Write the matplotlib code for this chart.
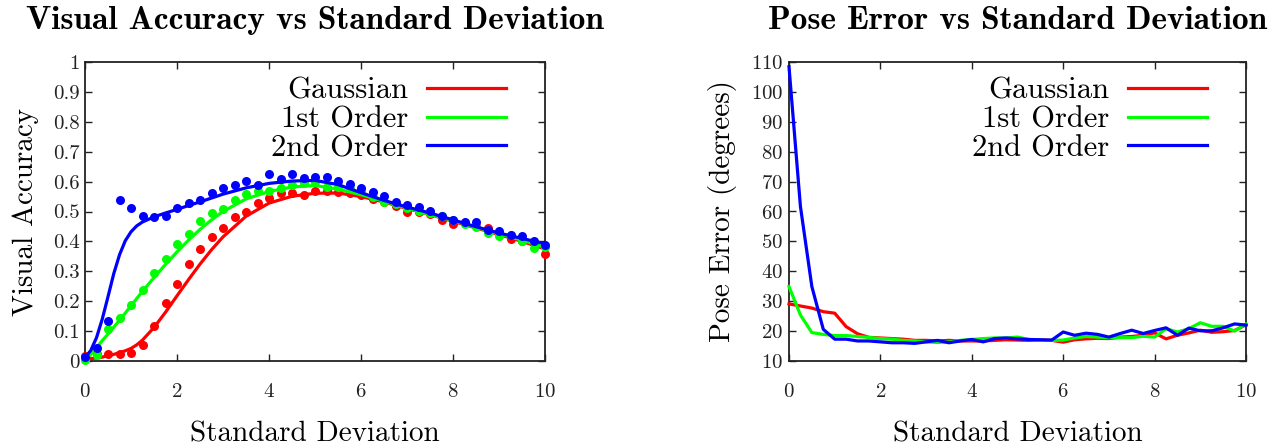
import matplotlib
matplotlib.use("Agg")
import matplotlib.pyplot as plt

plt.rcParams["font.family"] = ["cmr10", "DejaVu Serif"]
plt.rcParams["axes.formatter.use_mathtext"] = True

# ---- Visual accuracy: measured points (every 0.25) ----
std_points = [i * 0.25 for i in range(41)]

acc_gauss = [0.016, 0.025, 0.025, 0.025, 0.027, 0.054, 0.116, 0.194, 0.259, 0.323,
             0.374, 0.416, 0.444, 0.482, 0.498, 0.530, 0.545, 0.561, 0.561, 0.555,
             0.570, 0.570, 0.566, 0.561, 0.555, 0.541, 0.533, 0.519, 0.500, 0.498,
             0.492, 0.470, 0.457, 0.460, 0.450, 0.444, 0.427, 0.409, 0.402, 0.393,
             0.358]
acc_first = [0.005, 0.021, 0.106, 0.145, 0.188, 0.236, 0.293, 0.342, 0.392, 0.426,
             0.467, 0.496, 0.508, 0.537, 0.559, 0.569, 0.570, 0.577, 0.589, 0.594,
             0.600, 0.583, 0.581, 0.578, 0.570, 0.550, 0.532, 0.525, 0.511, 0.503,
             0.494, 0.485, 0.472, 0.458, 0.447, 0.427, 0.419, 0.421, 0.402, 0.377,
             0.382]
acc_second = [0.013, 0.044, 0.135, 0.539, 0.513, 0.484, 0.483, 0.484, 0.513, 0.528,
              0.539, 0.561, 0.577, 0.590, 0.602, 0.589, 0.627, 0.610, 0.627, 0.612,
              0.617, 0.615, 0.602, 0.591, 0.577, 0.564, 0.553, 0.531, 0.523, 0.516,
              0.502, 0.485, 0.472, 0.465, 0.465, 0.438, 0.435, 0.420, 0.418, 0.403,
              0.387]

# ---- Visual accuracy: fitted curves ----
std_fit = [0, 0.125, 0.25, 0.375, 0.5, 0.625, 0.75, 0.875, 1.0, 1.125, 1.25, 1.5,
           1.75, 2.0, 2.25, 2.5, 2.75, 3.0, 3.5, 4.0, 4.5, 5.0, 5.5, 6.0, 6.5, 7.0,
           7.5, 8.0, 8.5, 9.0, 9.5, 10.0]
fit_gauss = [0.007, 0.008, 0.010, 0.013, 0.018, 0.022, 0.028, 0.034, 0.042, 0.054,
             0.070, 0.112, 0.163, 0.218, 0.272, 0.324, 0.372, 0.415, 0.484, 0.528,
             0.551, 0.561, 0.562, 0.550, 0.532, 0.510, 0.490, 0.467, 0.445, 0.423,
             0.400, 0.375]
fit_first = [0.000, 0.022, 0.045, 0.068, 0.090, 0.113, 0.136, 0.160, 0.185, 0.209,
             0.233, 0.279, 0.323, 0.365, 0.404, 0.440, 0.472, 0.500, 0.542, 0.567,
             0.582, 0.587, 0.575, 0.556, 0.535, 0.512, 0.490, 0.470, 0.447, 0.426,
             0.404, 0.380]
fit_second = [0.012, 0.035, 0.078, 0.140, 0.215, 0.292, 0.355, 0.402, 0.432, 0.452,
              0.465, 0.482, 0.495, 0.507, 0.520, 0.532, 0.545, 0.558, 0.579, 0.594,
              0.602, 0.604, 0.590, 0.563, 0.537, 0.515, 0.495, 0.472, 0.449, 0.428,
              0.410, 0.392]

# ---- Pose error (degrees) ----
pose_gauss = [29.1, 28.4, 27.7, 26.5, 26.0, 21.5, 19.1, 17.9, 17.7, 17.5,
              17.3, 16.9, 16.9, 16.7, 16.9, 16.7, 16.7, 16.7, 16.9, 17.1,
              17.0, 16.9, 17.0, 16.9, 16.3, 17.1, 17.4, 17.6, 17.5, 18.0,
              18.2, 18.6, 19.4, 17.4, 18.6, 19.4, 20.3, 19.6, 19.8, 20.2,
              22.1]
pose_first = [34.9, 25.4, 19.5, 18.9, 18.5, 18.5, 18.2, 17.9, 17.5, 17.3,
              16.9, 16.7, 16.4, 16.2, 16.4, 16.9, 17.2, 17.5, 17.7, 17.7,
              18.0, 17.2, 16.9, 16.9, 17.0, 17.7, 18.2, 18.0, 17.8, 17.8,
              17.8, 18.3, 18.0, 20.8, 19.7, 20.8, 22.8, 21.6, 21.6, 20.0,
              22.4]
pose_second = [108.4, 61.7, 34.9, 20.6, 17.3, 17.3, 16.7, 16.7, 16.4, 16.1,
               16.1, 15.9, 16.4, 16.9, 16.1, 16.7, 17.2, 16.4, 17.5, 17.7,
               17.4, 17.2, 17.1, 17.0, 19.7, 18.6, 19.3, 18.9, 18.0, 19.2,
               20.3, 19.2, 20.2, 21.1, 18.6, 21.0, 20.1, 20.1, 21.1, 22.4,
               22.0]

labels = ["Gaussian", "1st Order", "2nd Order"]
colors = ["#ff0000", "#00ff00", "#0000ff"]

x_ticks = [0, 2, 4, 6, 8, 10]
acc_ticks = [0, 0.1, 0.2, 0.3, 0.4, 0.5, 0.6, 0.7, 0.8, 0.9, 1]
acc_tick_labels = ["0", "0.1", "0.2", "0.3", "0.4", "0.5", "0.6", "0.7", "0.8", "0.9", "1"]
pose_ticks = [10, 20, 30, 40, 50, 60, 70, 80, 90, 100, 110]

W, H = 1280, 448
fig = plt.figure(figsize=(W / 100, H / 100), dpi=100)
ax1 = fig.add_axes([85 / W, 1 - 361 / H, 460 / W, 299 / H])
ax2 = fig.add_axes([789 / W, 1 - 361 / H, 457 / W, 299 / H])

TICK_FS = 15
LABEL_FS = 21
TITLE_FS = 24
LEGEND_FS = 22


def style_axes(ax):
    for sp in ax.spines.values():
        sp.set_linewidth(1.3)
        sp.set_color("#222222")
    ax.tick_params(direction="in", length=5, width=1.0, top=True, right=True,
                   labelsize=TICK_FS, colors="#222222")
    ax.tick_params(axis="x", pad=16)
    ax.tick_params(axis="y", pad=4)


# Left: points and fitted curves
for pts, fit, lab, col in zip([acc_gauss, acc_first, acc_second],
                              [fit_gauss, fit_first, fit_second], labels, colors):
    ax1.plot(std_points, pts, "o", color=col, markersize=6.5, markeredgewidth=0,
             clip_on=False, zorder=3)
    ax1.plot(std_fit, fit, "-", color=col, linewidth=2.3, label=lab,
             clip_on=False, zorder=3)

ax1.set_xlim(0, 10)
ax1.set_ylim(0, 1)
ax1.set_xticks(x_ticks)
ax1.set_yticks(acc_ticks)
ax1.set_yticklabels(acc_tick_labels)
style_axes(ax1)
ax1.set_xlabel("Standard Deviation", fontsize=LABEL_FS, labelpad=14)
ax1.set_ylabel("Visual Accuracy", fontsize=LABEL_FS, labelpad=10)
ax1.set_title("Visual Accuracy vs Standard Deviation", fontsize=TITLE_FS,
              family="cmb10", pad=24)

# Right: pose error lines
for vals, lab, col in zip([pose_gauss, pose_first, pose_second], labels, colors):
    ax2.plot(std_points, vals, "-", color=col, linewidth=2.3, label=lab,
             clip_on=False, zorder=3)

ax2.set_xlim(0, 10)
ax2.set_ylim(10, 110)
ax2.set_xticks(x_ticks)
ax2.set_yticks(pose_ticks)
style_axes(ax2)
ax2.set_xlabel("Standard Deviation", fontsize=LABEL_FS, labelpad=14)
ax2.set_ylabel("Pose Error (degrees)", fontsize=LABEL_FS, labelpad=10)
ax2.set_title("Pose Error vs Standard Deviation", fontsize=TITLE_FS,
              family="cmb10", pad=24)

for ax in (ax1, ax2):
    ax.legend(loc="upper right", bbox_to_anchor=(0.962, 1.022), frameon=False,
              markerfirst=False, fontsize=LEGEND_FS, handlelength=2.6,
              handletextpad=0.6, labelspacing=0.05, borderaxespad=0.3)

fig.savefig("out.png", dpi=100)
